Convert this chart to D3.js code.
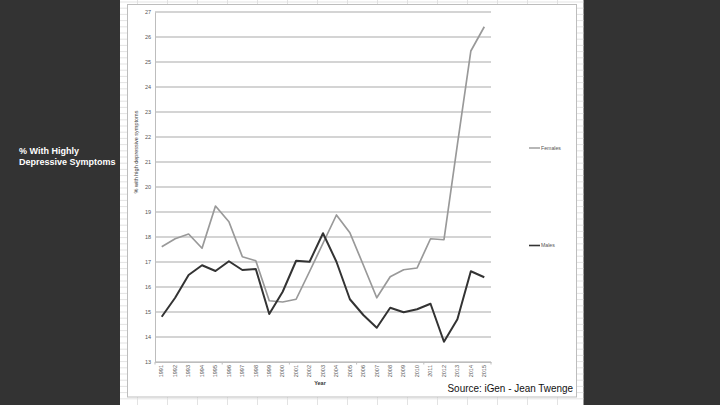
<!DOCTYPE html>
<html>
<head>
<meta charset="utf-8">
<script src="https://cdn.jsdelivr.net/npm/d3@7"></script>
<style>
  body { margin: 0; background: #333333; }
  svg { display: block; font-family: "Liberation Sans", Arial, sans-serif; }
</style>
</head>
<body>
<svg class="plot" width="720" height="405"></svg>
<script>
// chart values
var years = ["1991","1992","1993","1994","1995","1996","1997","1998","1999","2000",
             "2001","2002","2003","2004","2005","2006","2007","2008","2009","2010",
             "2011","2012","2013","2014","2015"];
var females = [17.61, 17.93, 18.12, 17.55, 19.24, 18.61, 17.21, 17.05, 15.45, 15.40,
               15.51, 16.62, 17.75, 18.88, 18.17, 16.88, 15.57, 16.41, 16.69, 16.76,
               17.93, 17.89, 21.70, 25.44, 26.41];
var males = [14.81, 15.57, 16.48, 16.87, 16.64, 17.03, 16.68, 16.72, 14.92, 15.81,
             17.05, 17.01, 18.15, 17.01, 15.51, 14.88, 14.37, 15.17, 14.99, 15.11,
             15.33, 13.81, 14.71, 16.63, 16.39];
var yTicks = [13,14,15,16,17,18,19,20,21,22,23,24,25,26,27];

var svg = d3.select(".plot");

// white spreadsheet page behind the chart
var sheet = {left: 120, right: 583.5};
svg.append("rect")
    .attr("x", sheet.left).attr("y", 0)
    .attr("width", sheet.right - sheet.left).attr("height", 405)
    .attr("fill", "#ffffff");

// faint cell grid of the sheet
var cells = svg.append("g").attr("stroke", "#dcdcdc").attr("stroke-width", 0.8);
d3.range(137.5, sheet.right, 30).forEach(function(cx) {
  cells.append("line").attr("x1", cx).attr("x2", cx).attr("y1", 0).attr("y2", 405);
});
d3.range(2, 405, 6.2).forEach(function(cy) {
  cells.append("line").attr("x1", sheet.left).attr("x2", sheet.right).attr("y1", cy).attr("y2", cy);
});

// chart object box
svg.append("rect")
    .attr("x", 127.5).attr("y", 4.5)
    .attr("width", 449).attr("height", 392.5)
    .attr("fill", "#ffffff")
    .attr("stroke", "#bdbdbd")
    .attr("stroke-width", 1);

var margin = {top: 12, left: 155, right: 491, bottom: 362};

var x = d3.scaleBand().domain(years).range([margin.left, margin.right]),
    y = d3.scaleLinear().domain([13, 27]).range([margin.bottom, margin.top]);

function cx(d, i) { return x(years[i]) + x.bandwidth() / 2; }

// horizontal gridlines
svg.append("g")
    .selectAll("line")
    .data(yTicks)
    .enter()
    .append("line")
    .attr("x1", margin.left).attr("x2", margin.right)
    .attr("y1", function(d) { return y(d); })
    .attr("y2", function(d) { return y(d); })
    .attr("stroke", "#c6c6c6")
    .attr("stroke-width", 1.3);

// y axis
var yAxis = svg.append("g")
    .attr("transform", "translate(" + margin.left + ",0)")
    .call(d3.axisLeft(y).tickValues(yTicks).tickSize(0).tickPadding(4).tickFormat(d3.format("d")));
yAxis.select(".domain").attr("stroke", "#bdbdbd").attr("stroke-width", 1);
yAxis.selectAll("text").attr("font-size", 5.5).attr("fill", "#555");

// x axis
var xAxis = svg.append("g")
    .attr("transform", "translate(0," + margin.bottom + ")")
    .call(d3.axisBottom(x).tickSize(0).tickPadding(0));
xAxis.select(".domain").attr("stroke", "#bdbdbd").attr("stroke-width", 1);
xAxis.selectAll("text")
    .attr("font-size", 5.5)
    .attr("fill", "#555")
    .attr("text-anchor", "end")
    .attr("dy", "0.32em")
    .attr("transform", "translate(0,3) rotate(-90)")
    .attr("x", 0).attr("y", 0);

// boundary tick marks every five categories
svg.append("g")
    .selectAll("line")
    .data(years.filter(function(d, i) { return i % 5 === 0; }).concat([null]))
    .enter()
    .append("line")
    .attr("x1", function(d) { return d === null ? margin.right : x(d); })
    .attr("x2", function(d) { return d === null ? margin.right : x(d); })
    .attr("y1", margin.bottom).attr("y2", margin.bottom + 2.5)
    .attr("stroke", "#bdbdbd");

// axis titles
svg.append("text")
    .attr("transform", "translate(138,152) rotate(-90)")
    .attr("text-anchor", "middle")
    .attr("font-size", 5.5)
    .attr("fill", "#444")
    .text("% with high depressive symptoms");

svg.append("text")
    .attr("x", (margin.left + margin.right) / 2 - 3)
    .attr("y", 385)
    .attr("text-anchor", "middle")
    .attr("font-size", 5.5)
    .attr("font-weight", "bold")
    .attr("fill", "#333")
    .text("Year");

// series lines
var line = d3.line()
    .x(cx)
    .y(function(d) { return y(d); });

svg.append("path")
    .datum(females)
    .attr("fill", "none")
    .attr("stroke", "#999999")
    .attr("stroke-width", 1.7)
    .attr("stroke-linejoin", "round")
    .attr("d", line);

svg.append("path")
    .datum(males)
    .attr("fill", "none")
    .attr("stroke", "#333333")
    .attr("stroke-width", 2)
    .attr("stroke-linejoin", "round")
    .attr("d", line);

// legend
var legend = [
  {name: "Females", color: "#999999", width: 1.4, y: 148},
  {name: "Males", color: "#333333", width: 1.6, y: 245.5}
];
var lg = svg.append("g").selectAll("g").data(legend).enter().append("g");
lg.append("line")
    .attr("x1", 529).attr("x2", 540)
    .attr("y1", function(d) { return d.y; }).attr("y2", function(d) { return d.y; })
    .attr("stroke", function(d) { return d.color; })
    .attr("stroke-width", function(d) { return d.width; });
lg.append("text")
    .attr("x", 541).attr("y", function(d) { return d.y; })
    .attr("dy", "0.35em")
    .attr("font-size", 5.2)
    .attr("fill", "#555")
    .text(function(d) { return d.name; });

// slide texts
svg.append("text")
    .attr("x", 447.5).attr("y", 392)
    .attr("font-size", 11)
    .attr("textLength", 125.5)
    .attr("lengthAdjust", "spacingAndGlyphs")
    .attr("fill", "#111")
    .text("Source: iGen - Jean Twenge");

var side = svg.append("text")
    .attr("font-size", 9)
    .attr("font-weight", "bold")
    .attr("fill", "#ffffff");
side.append("tspan").attr("x", 19).attr("y", 154).text("% With Highly");
side.append("tspan").attr("x", 19).attr("y", 164.5).text("Depressive Symptoms");
</script>
</body>
</html>
